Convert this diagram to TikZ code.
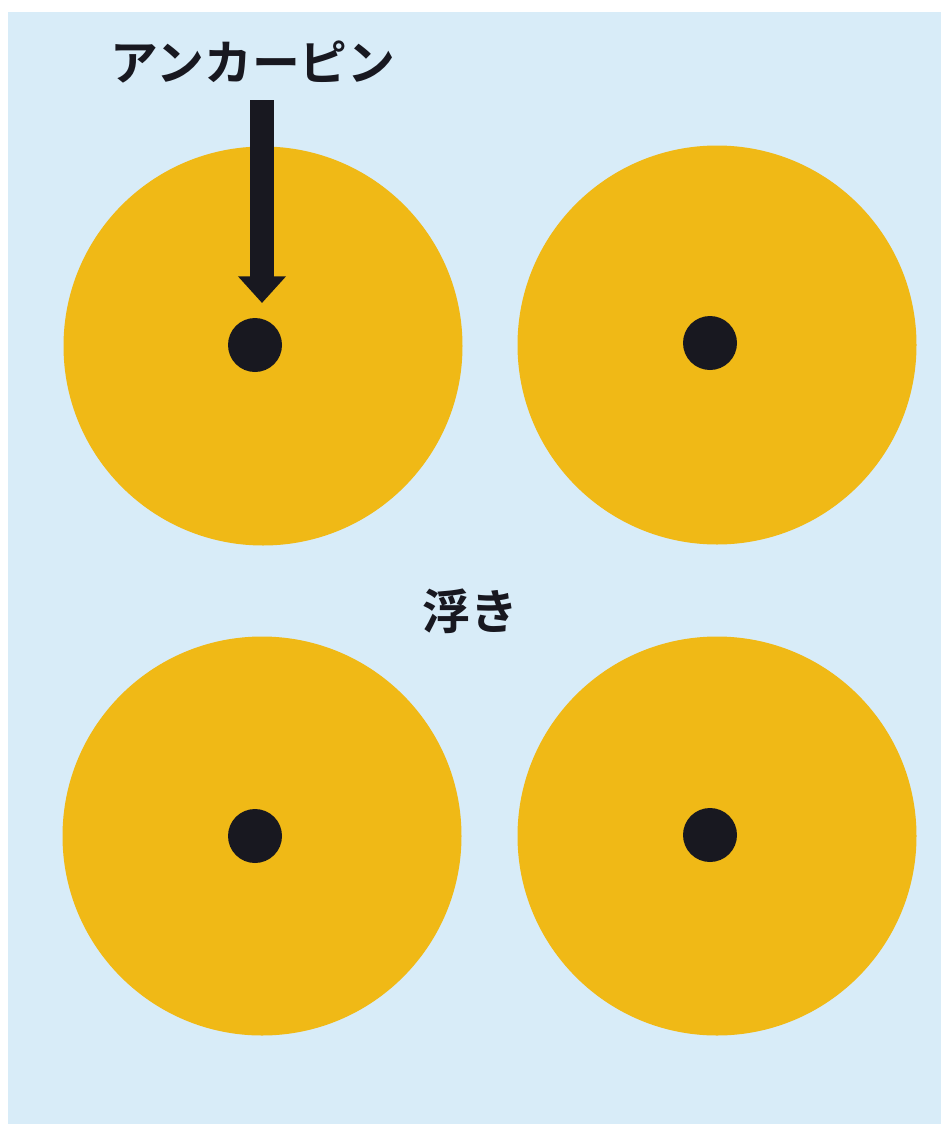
\documentclass[tikz,border=0pt]{standalone}
\usepackage{fontspec}
\usepackage{tikz}
\usepackage{xcolor}
\usetikzlibrary{positioning,arrows.meta,calc}
\newfontfamily\jpfont{Noto Sans CJK JP Bold}
\definecolor{bgblue}{RGB}{216,236,248}
\definecolor{floatyellow}{RGB}{240,185,22}
\definecolor{pinblack}{RGB}{24,24,32}

\begin{document}
\begin{tikzpicture}[
      x=0.025cm, y=-0.025cm,
      floatdisk/.style={circle, fill=floatyellow, minimum size=399*0.025cm, inner sep=0pt},
      pin/.style={circle, fill=pinblack, minimum size=54*0.025cm, inner sep=0pt},
      lbl/.style={font=\jpfont\fontsize{34}{40}\selectfont, text=pinblack, inner sep=2pt},
      arr/.style={-{Triangle[width=33pt, length=19pt]}, line width=17.5pt, draw=pinblack}
  ]
    \useasboundingbox (0,0) rectangle (941,1124);
    \fill[white] (0,0) rectangle (941,1124);
    \fill[bgblue] (8,12) rectangle (941,1124);
    % four floats with their anchor pins
    \node[floatdisk] (disk1) at (263,346) {};
    \node[floatdisk] (disk2) at (717,345) {};
    \node[floatdisk] (disk3) at (262,836) {};
    \node[floatdisk] (disk4) at (717,836) {};
    \node[pin] (pin1) at (255,345) {};
    \node[pin] (pin2) at (710,343) {};
    \node[pin] (pin3) at (255,836) {};
    \node[pin] (pin4) at (710,835) {};
    \node[lbl] (anchor) at (253,62) {アンカーピン};
    \node[lbl] (float) at (470,611) {浮き};
    \coordinate (tip) at (262,303);
    \draw[arr] (anchor.south -| tip) ++(0,14) -- (tip);
  \end{tikzpicture}
\end{document}
